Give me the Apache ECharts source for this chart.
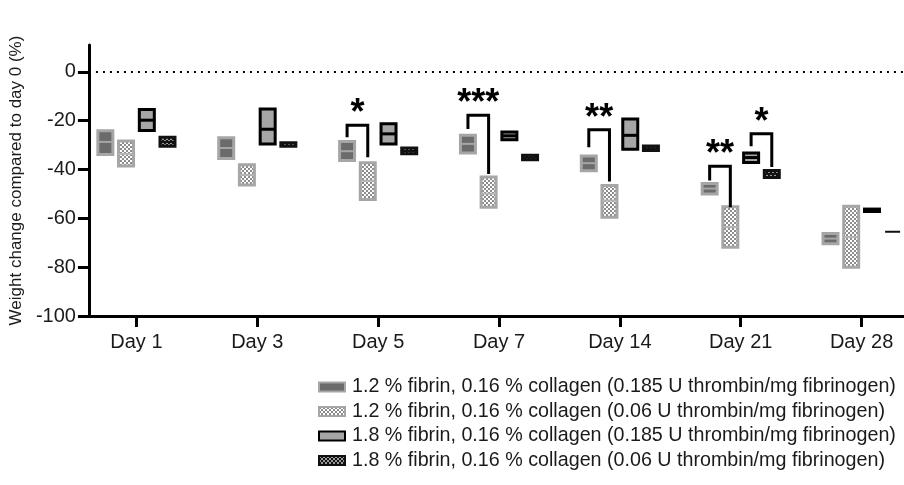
<!DOCTYPE html>
<html>
<head>
<meta charset="utf-8">
<style>
  html, body { margin: 0; padding: 0; background: #fff; }
  #chart { width: 904px; height: 485px; }
</style>
<script src="https://cdn.jsdelivr.net/npm/echarts@6/dist/echarts.min.js"></script>
</head>
<body>
<div id="chart"></div>
<script>
// categories
const days = ["Day 1", "Day 3", "Day 5", "Day 7", "Day 14", "Day 21", "Day 28"];
const yTicks = [-100, -80, -60, -40, -20, 0];

const groupNames = [
  "1.2 % fibrin, 0.16 % collagen (0.185 U thrombin/mg fibrinogen)",
  "1.2 % fibrin, 0.16 % collagen (0.06 U thrombin/mg fibrinogen)",
  "1.8 % fibrin, 0.16 % collagen (0.185 U thrombin/mg fibrinogen)",
  "1.8 % fibrin, 0.16 % collagen (0.06 U thrombin/mg fibrinogen)"
];

// floating bars: min, max, mean per day
const g1Low = [-33.8, -35.5, -36.3, -33.2, -40.5, -50.0, -70.4];
const g1High = [-24.1, -27.0, -28.5, -26.0, -34.5, -45.7, -66.2];
const g1Mean = [-28.7, -31.2, -32.5, -29.5, -37.4, -47.8, -68.3];

const g2Low = [-38.6, -46.3, -52.3, -55.5, -59.6, -71.8, -80.0];
const g2High = [-28.3, -38.1, -37.2, -43.1, -46.5, -55.3, -55.0];
const g2Mean = [-33.6, -42.2, -44.6, -49.9, -52.7, -63.6, -67.7];

const g3Low = [-24.0, -29.6, -29.6, -27.8, -31.7, -37.1, -57.2];
const g3High = [-15.4, -15.2, -21.3, -24.6, -19.3, -33.2, -56.2];
const g3Mean = [-19.8, -23.5, -25.4, -26.2, -26.0, -35.1, -56.7];

const g4Low = [-30.5, -30.5, -33.5, -36.0, -32.2, -43.3, -65.5];
const g4High = [-26.8, -29.0, -31.2, -34.2, -30.4, -40.4, -65.5];
const g4Mean = [-28.7, -29.8, -32.4, -35.1, -31.3, -41.8, -65.5];

// significance brackets: day, group a, group b, top, left end, right end
const sigDay = [2, 3, 4, 5, 5];
const sigPair = [[0, 1], [0, 1], [0, 1], [0, 1], [2, 3]];
const sigTop = [-21.9, -17.8, -23.7, -38.7, -25.4];
const sigLeftEnd = [-26.8, -23.4, -30.9, -44.5, -30.5];
const sigRightEnd = [-35.0, -41.8, -44.9, -55.5, -39.0];
const sigStars = ["*", "***", "**", "**", "*"];

const lows = [g1Low, g2Low, g3Low, g4Low];
const highs = [g1High, g2High, g3High, g4High];
const means = [g1Mean, g2Mean, g3Mean, g4Mean];

function checker(a, b, s) {
  const c = document.createElement("canvas");
  c.width = c.height = s * 2;
  const ctx = c.getContext("2d");
  ctx.fillStyle = a;
  ctx.fillRect(0, 0, s * 2, s * 2);
  ctx.fillStyle = b;
  ctx.fillRect(0, 0, s, s);
  ctx.fillRect(s, s, s, s);
  return { image: c, repeat: "repeat" };
}

const offsets = [-0.257, -0.086, 0.086, 0.257];
const styles = [
  { fill: "#6b6b6b", stroke: "#a6a6a6", mean: "#a6a6a6", meanW: 2 },
  { fill: checker("#ffffff", "#8c8c8c", 2), stroke: "#a6a6a6", mean: "#b4b4b4", meanW: 2 },
  { fill: "#a6a6a6", stroke: "#000000", mean: "#000000", meanW: 3 },
  { fill: checker("#111111", "#9c9c9c", 2), stroke: "#111111", mean: "#111111", meanW: 2 }
];

const font = "Liberation Sans, Arial, Helvetica, sans-serif";
const chart = echarts.init(document.getElementById("chart"));

function boxSeries(g) {
  const st = styles[g];
  return {
    name: groupNames[g],
    type: "custom",
    itemStyle: { color: st.fill, borderColor: st.stroke, borderWidth: 2 },
    encode: { x: 0, y: [1, 2, 3] },
    data: days.map((d, i) => [i + offsets[g], lows[g][i], highs[g][i], means[g][i]]),
    renderItem: (params, api) => {
      const x = api.value(0);
      const top = api.coord([x, api.value(2)]);
      const bot = api.coord([x, api.value(1)]);
      const mid = api.coord([x, api.value(3)]);
      const w = 15;
      const h = bot[1] - top[1];
      const lw = h < 1 ? 2 : 3;
      return {
        type: "group",
        children: [
          {
            type: "rect",
            shape: { x: top[0] - w / 2, y: top[1], width: w, height: h },
            style: { fill: st.fill, stroke: st.stroke, lineWidth: lw }
          },
          {
            type: "line",
            shape: { x1: top[0] - w / 2, y1: mid[1], x2: top[0] + w / 2, y2: mid[1] },
            style: { stroke: st.mean, lineWidth: h < 4 ? 0 : st.meanW }
          }
        ]
      };
    }
  };
}

const series = [0, 1, 2, 3].map(boxSeries);

series.push({
  type: "custom",
  silent: true,
  encode: { x: [0, 1], y: [2, 3, 4] },
  data: sigDay.map((d, i) => [
    d + offsets[sigPair[i][0]],
    d + offsets[sigPair[i][1]],
    sigTop[i],
    sigLeftEnd[i],
    sigRightEnd[i]
  ]),
  renderItem: (params, api) => {
    const a = api.coord([api.value(0), api.value(3)]);
    const t1 = api.coord([api.value(0), api.value(2)]);
    const t2 = api.coord([api.value(1), api.value(2)]);
    const b = api.coord([api.value(1), api.value(4)]);
    return {
      type: "group",
      children: [
        {
          type: "polyline",
          shape: { points: [a, t1, t2, b] },
          style: { fill: null, stroke: "#000", lineWidth: 3 }
        },
        {
          type: "text",
          style: {
            x: (t1[0] + t2[0]) / 2,
            y: t1[1] + 7,
            text: sigStars[params.dataIndex],
            align: "center",
            verticalAlign: "bottom",
            fill: "#000",
            font: "bold 36px " + font
          }
        }
      ]
    };
  },
  markLine: {
    silent: true,
    symbol: "none",
    label: { show: false },
    lineStyle: { color: "#000", type: [2, 5], width: 2 },
    data: [{ yAxis: 0 }]
  }
});

const option = {
  animation: false,
  grid: { left: 88, right: 0, top: 45, bottom: 169 },
  xAxis: {
    type: "value",
    min: -0.393,
    max: 6.351,
    splitLine: { show: false },
    axisLine: { onZero: false, lineStyle: { color: "#000", width: 3 } },
    axisTick: { customValues: days.map((d, i) => i), length: 11, lineStyle: { color: "#000", width: 3 } },
    axisLabel: {
      customValues: days.map((d, i) => i),
      formatter: (v) => days[Math.round(v)],
      color: "#1a1a1a",
      fontSize: 20,
      fontFamily: font,
      margin: 16
    }
  },
  yAxis: {
    type: "value",
    min: -100,
    max: 11,
    name: "Weight change compared to day 0 (%)",
    nameLocation: "middle",
    nameGap: 60,
    nameTextStyle: { color: "#1a1a1a", fontSize: 17, fontFamily: font },
    splitLine: { show: false },
    axisLine: { show: true, onZero: false, lineStyle: { color: "#000", width: 3 } },
    axisTick: { show: true, customValues: yTicks, length: 11, lineStyle: { color: "#000", width: 3 } },
    axisLabel: { customValues: yTicks, color: "#1a1a1a", fontSize: 20, fontFamily: font, margin: 13 }
  },
  legend: {
    orient: "vertical",
    left: 313,
    top: 372,
    itemWidth: 26,
    itemHeight: 9,
    itemGap: 4.5,
    icon: "rect",
    textStyle: { color: "#1a1a1a", fontSize: 19.7, fontFamily: font, padding: [0, 0, 0, 2] },
    data: groupNames.map((n, g) => ({
      name: n,
      itemStyle: { color: styles[g].fill, borderColor: styles[g].stroke, borderWidth: 2 }
    }))
  },
  series: series
};

chart.setOption(option);
</script>
</body>
</html>
